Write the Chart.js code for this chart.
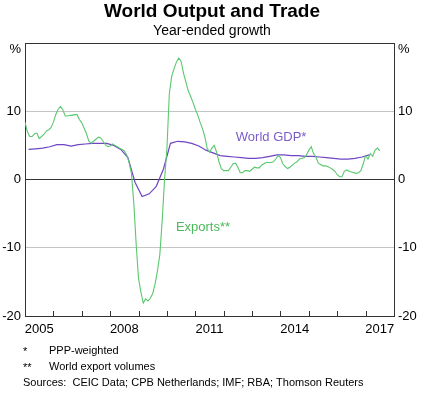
<!DOCTYPE html>
<html lang="en">
<head>
    <meta charset="UTF-8">
    <title>World Output and Trade</title>
    <script src="https://cdn.jsdelivr.net/npm/chart.js"></script>
    <style>
        body { margin: 0; background: #fff; }
    </style>
</head>
<body>
    <canvas id="tradeChart" width="424" height="395"></canvas>
    <script>
        // Data
        // Exports, monthly from Jan 2005 (year-ended growth, %)
        const exportsStart = 2005;
        const exportsValues = [
            8.4, 7.0, 6.3, 6.3, 6.7, 6.8, 6.0, 6.3, 6.6, 7.1, 7.3, 7.6,
            8.4, 9.5, 10.3, 10.7, 10.2, 9.3, 9.3, 9.4, 9.4, 9.5, 9.5, 8.8,
            8.3, 7.5, 6.7, 5.6, 5.3, 5.6, 5.9, 6.2, 6.1, 5.6, 5.1, 4.8,
            4.9, 5.2, 5.0, 4.8, 4.6, 4.4, 4.2, 3.6, 2.5, 0.9, -3.5, -9.5,
            -14.5, -16.5, -18.1, -17.5, -17.8, -17.4, -16.7, -15.3, -13.4, -11.0, -6.0, 0.0,
            4.5, 12.5, 15.1, 16.2, 17.2, 17.8, 17.3, 15.6, 14.3, 13.0, 12.2, 11.3,
            10.3, 9.5, 8.4, 7.5, 6.3, 4.6, 4.0, 4.6, 5.0, 4.0, 2.6, 1.6,
            1.3, 1.3, 1.3, 1.8, 2.3, 2.4, 1.8, 1.0, 1.0, 1.3, 1.3, 1.2,
            1.5, 1.8, 1.7, 1.7, 2.1, 2.3, 2.5, 2.5, 2.5, 2.6, 3.0, 3.5,
            3.2, 2.3, 1.9, 1.6, 1.8, 2.1, 2.4, 2.6, 3.0, 3.1, 3.2, 3.6,
            4.3, 4.8, 3.8, 3.3, 2.4, 2.2, 2.0, 2.0, 1.9, 1.7, 1.5, 1.2,
            0.7, 0.4, 0.4, 1.2, 1.4, 1.2, 1.1, 1.0, 0.9, 1.0, 1.3, 2.3,
            3.5, 3.0, 3.8, 3.4, 4.3, 4.6, 4.2
        ];

        // World GDP, quarterly from Q1 2005 (year-ended growth, %)
        const gdpStart = 2005.125;
        const gdpValues = [
            4.4, 4.5, 4.6, 4.8,
            5.1, 5.1, 4.9, 5.1,
            5.2, 5.3, 5.3, 5.3,
            5.0, 4.4, 3.2, -0.4,
            -2.5, -2.1, -1.0, 1.5,
            5.3, 5.6, 5.5, 5.3,
            4.9, 4.3, 3.9, 3.5,
            3.4, 3.3, 3.2, 3.1,
            3.1, 3.2, 3.4, 3.6,
            3.6, 3.5, 3.5, 3.4,
            3.4, 3.3, 3.2, 3.1,
            3.0, 3.0, 3.1, 3.3,
            3.6
        ];

        const yearLabels = [2005, 2008, 2011, 2014, 2017];
        const yTickLabels = { '20': '', '10': '10', '0': '0', '-10': '-10', '-20': '-20' };

        const exportsPoints = exportsValues.map((v, i) => ({ x: exportsStart + i / 12, y: v }));
        const gdpPoints = gdpValues.map((v, i) => ({ x: gdpStart + i / 4, y: v }));

        const FONT = 'Arial, "Liberation Sans", sans-serif';
        const GREEN = '#5ac86e';
        const PURPLE = '#6f45c4';

        // Titles, unit marks, inward year ticks, line labels and footnotes
        const decorations = {
            id: 'decorations',
            afterDraw(chart) {
                const ctx = chart.ctx;
                const xs = chart.scales.x;
                const ys = chart.scales.y;
                ctx.save();

                ctx.beginPath();
                ctx.strokeStyle = '#333';
                ctx.lineWidth = 1;
                for (let yr = 2006; yr <= 2017; yr++) {
                    const px = Math.round(xs.getPixelForValue(yr)) + 0.5;
                    ctx.moveTo(px, ys.bottom);
                    ctx.lineTo(px, ys.bottom - 5);
                }
                ctx.stroke();

                ctx.fillStyle = '#000';
                ctx.textAlign = 'center';
                ctx.textBaseline = 'middle';
                ctx.font = 'bold 19px ' + FONT;
                ctx.fillText('World Output and Trade', 212, 12);
                ctx.font = '14px ' + FONT;
                ctx.fillText('Year-ended growth', 212, 31);

                ctx.font = '13px ' + FONT;
                ctx.textAlign = 'right';
                ctx.fillText('%', xs.left - 4, ys.top + 6);
                ctx.textAlign = 'left';
                ctx.fillText('%', xs.right + 4, ys.top + 6);

                ctx.textAlign = 'center';
                ctx.fillStyle = '#7c5cc8';
                ctx.fillText('World GDP*', xs.getPixelForValue(2013.67), ys.getPixelForValue(6.15));
                ctx.fillStyle = '#4cb85a';
                ctx.fillText('Exports**', xs.getPixelForValue(2011.27), ys.getPixelForValue(-7.0));

                ctx.fillStyle = '#000';
                ctx.textAlign = 'left';
                ctx.font = '11px ' + FONT;
                ctx.fillText('*', 23, 352);
                ctx.fillText('PPP-weighted', 49, 351);
                ctx.fillText('**', 23, 368);
                ctx.fillText('World export volumes', 49, 367);
                ctx.fillText('Sources:  CEIC Data; CPB Netherlands; IMF; RBA; Thomson Reuters', 23, 383);
                ctx.restore();
            }
        };

        const config = {
            type: 'line',
            data: {
                datasets: [
                    {
                        label: 'Exports',
                        data: exportsPoints,
                        borderColor: GREEN,
                        borderWidth: 1.1,
                        pointRadius: 0,
                        tension: 0,
                        yAxisID: 'y'
                    },
                    {
                        label: 'World GDP',
                        data: gdpPoints,
                        borderColor: PURPLE,
                        borderWidth: 1.2,
                        pointRadius: 0,
                        tension: 0,
                        yAxisID: 'y'
                    }
                ]
            },
            options: {
                responsive: false,
                animation: false,
                devicePixelRatio: 1,
                layout: { padding: { top: 43, left: 0, right: 0, bottom: 0 } },
                plugins: {
                    legend: { display: false },
                    tooltip: { enabled: false }
                },
                scales: {
                    x: {
                        type: 'linear',
                        min: 2005,
                        max: 2018,
                        afterFit: s => { s.height = 79; },
                        grid: { display: false, drawTicks: false },
                        border: { display: false },
                        ticks: {
                            stepSize: 1,
                            autoSkip: false,
                            maxRotation: 0,
                            labelOffset: 14.2,
                            padding: 6,
                            color: '#000',
                            font: { family: FONT, size: 13 },
                            callback: v => yearLabels.includes(v) ? String(v) : ''
                        }
                    },
                    y: {
                        position: 'left',
                        min: -20,
                        max: 20,
                        afterFit: s => { s.width = 25; },
                        grid: {
                            drawTicks: false,
                            color: c => (c.tick.value % 20 === 0) ? '#333' : '#c4c4c4',
                            lineWidth: 1
                        },
                        border: { display: true, color: '#333' },
                        ticks: {
                            stepSize: 10,
                            padding: 4,
                            color: '#000',
                            font: { family: FONT, size: 13 },
                            callback: v => yTickLabels[String(v)]
                        }
                    },
                    y2: {
                        position: 'right',
                        min: -20,
                        max: 20,
                        afterFit: s => { s.width = 30; },
                        grid: { drawOnChartArea: false, drawTicks: false },
                        border: { display: true, color: '#333' },
                        ticks: {
                            stepSize: 10,
                            padding: 4,
                            color: '#000',
                            font: { family: FONT, size: 13 },
                            callback: v => yTickLabels[String(v)]
                        }
                    }
                }
            },
            plugins: [decorations]
        };

        const tradeChart = new Chart(document.getElementById('tradeChart'), config);
    </script>
</body>
</html>
